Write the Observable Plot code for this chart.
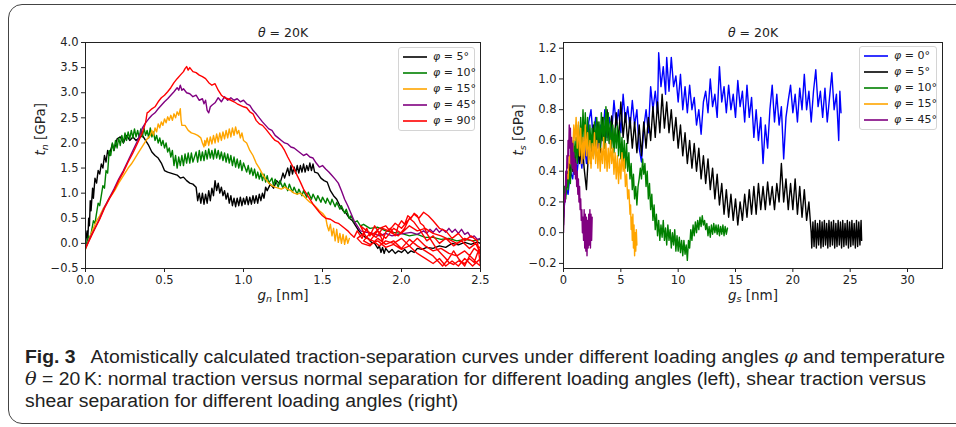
<!DOCTYPE html>
<html><head><meta charset="utf-8">
<script src="https://cdn.jsdelivr.net/npm/d3@7"></script>
<script src="https://cdn.jsdelivr.net/npm/@observablehq/plot@0.6"></script>
<style>
html,body{margin:0;padding:0;background:#fff;width:956px;height:427px;overflow:hidden;}
#wrap{position:relative;width:956px;height:427px;overflow:hidden;}
#border{position:absolute;left:8px;top:4px;width:1000px;height:420px;border:1.6px solid #444;border-radius:14px;box-sizing:border-box;}
#left{position:absolute;left:0;top:0;}
#right{position:absolute;left:490px;top:0;}
.legend{position:absolute;background:rgba(255,255,255,0.85);border:1px solid #d4d4d4;border-radius:3px;font-family:"DejaVu Sans";font-size:11px;color:#222;box-sizing:border-box;z-index:5;}
.legend .row{position:absolute;left:0;height:16px;width:100%;}
.legend svg{position:absolute;left:4px;top:0;}
.legend .lab{position:absolute;top:1px;white-space:nowrap;}
#caption{position:absolute;left:25px;top:346px;font-family:"Liberation Sans";font-size:18px;line-height:22px;color:#222;white-space:nowrap;transform:scaleX(1.075);transform-origin:0 0;}
#caption .ln{display:block;width:max-content;}
#caption .m{font-family:"DejaVu Serif";font-style:italic;}
</style></head>
<body>
<div id="wrap">
<div id="border"></div>
<div id="left"></div>
<div id="right"></div>
<div id="legL" class="legend" style="left:398px;top:47px;width:77px;height:84px;"></div>
<div id="legR" class="legend" style="left:859px;top:46px;width:78px;height:84px;"></div>
<div id="caption">
<div class="ln"><b>Fig. 3</b>&nbsp;&nbsp; Atomistically calculated traction-separation curves under different loading angles <span class="m">φ</span> and temperature</div>
<div class="ln"><span class="m">θ</span> = 20&thinsp;K: normal traction versus normal separation for different loading angles (left), shear traction versus</div>
<div class="ln">shear separation for different loading angles (right)</div>
</div>
</div>
<script>
// ---------- tick values ----------
const xTicksLeft = [0, 0.5, 1.0, 1.5, 2.0, 2.5];
const yTicksLeft = [-0.5, 0, 0.5, 1.0, 1.5, 2.0, 2.5, 3.0, 3.5, 4.0];
const xTicksRight = [0, 5, 10, 15, 20, 25, 30];
const yTicksRight = [-0.2, 0, 0.2, 0.4, 0.6, 0.8, 1.0, 1.2];

// ---------- legends ----------
const anglesLeft = [5, 10, 15, 45, 90];
const colorsLeft = ["#000000", "#008000", "#ffa500", "#800080", "#ff0000"];
const anglesRight = [0, 5, 10, 15, 45];
const colorsRight = ["#0000ff", "#000000", "#008000", "#ffa500", "#800080"];

// ---------- left panel: normal traction t_n [GPa] vs g_n [nm] ----------
const gn5 = [[0,0],[0.01,0.25],[0.015,0.1],[0.02,0.5],[0.025,0.35],[0.03,0.85],[0.035,0.65],[0.045,1.1],[0.05,0.9],[0.06,1.3],[0.07,1.2],[0.08,1.45],[0.09,1.38],[0.1,1.58],[0.11,1.5],[0.12,1.75],[0.13,1.62],[0.14,1.85],[0.15,1.75],[0.17,1.98],[0.18,1.85],[0.2,2.08],[0.22,2.12],[0.24,2.0],[0.26,2.15],[0.28,2.05],[0.3,2.12],[0.32,2.05],[0.34,2.1],[0.36,2.15],[0.38,2.05],[0.4,1.95],[0.42,1.82],[0.44,1.75],[0.46,1.7],[0.48,1.6],[0.5,1.45],[0.52,1.42],[0.54,1.4],[0.56,1.38],[0.58,1.36],[0.6,1.3],[0.62,1.32],[0.64,1.25],[0.66,1.2],[0.68,1.18],[0.7,1.12],[0.71,0.85],[0.72,1.0],[0.73,0.8],[0.74,1.0],[0.75,0.78],[0.76,0.98],[0.77,0.8],[0.78,1.05],[0.79,0.85],[0.8,1.1],[0.81,0.95],[0.82,1.25],[0.83,1.05],[0.84,1.2],[0.85,1.0],[0.86,1.12],[0.87,0.95],[0.88,1.05],[0.89,0.88],[0.9,1.0],[0.91,0.8],[0.92,0.95],[0.93,0.75],[0.94,0.9],[0.95,0.73],[0.96,0.9],[0.97,0.75],[0.98,0.92],[0.99,0.75],[1.0,0.9],[1.01,0.78],[1.02,0.93],[1.03,0.77],[1.04,0.92],[1.05,0.78],[1.06,0.95],[1.07,0.8],[1.08,0.95],[1.09,0.8],[1.1,0.98],[1.11,0.85],[1.12,1.0],[1.13,0.9],[1.14,1.12],[1.15,1.05],[1.17,1.18],[1.19,1.1],[1.21,1.25],[1.23,1.18],[1.25,1.4],[1.26,1.3],[1.28,1.5],[1.29,1.35],[1.3,1.55],[1.31,1.38],[1.32,1.52],[1.33,1.4],[1.34,1.55],[1.35,1.4],[1.36,1.55],[1.37,1.42],[1.38,1.58],[1.39,1.42],[1.4,1.55],[1.41,1.45],[1.42,1.6],[1.43,1.45],[1.44,1.58],[1.45,1.42],[1.47,1.4],[1.49,1.3],[1.51,1.25],[1.53,1.22],[1.55,1.05],[1.57,0.95],[1.59,0.88],[1.61,0.75],[1.63,0.65],[1.65,0.6],[1.67,0.5],[1.69,0.45],[1.71,0.35],[1.73,0.25],[1.75,0.18],[1.77,0.12],[1.79,0.1],[1.81,0.02],[1.83,0.0],[1.85,-0.1],[1.86,-0.05],[1.87,-0.18],[1.88,-0.08],[1.89,-0.2],[1.9,-0.1],[1.92,-0.18],[1.94,-0.12],[1.96,-0.2],[1.98,-0.15],[2.0,-0.18],[2.02,-0.12],[2.04,-0.2],[2.06,-0.15],[2.08,-0.18],[2.1,-0.1],[2.13,-0.12],[2.16,-0.08],[2.2,-0.1],[2.24,-0.05],[2.28,-0.08],[2.32,0.0],[2.36,-0.03],[2.4,0.02],[2.44,-0.02],[2.48,0.03],[2.5,0.0]];

const gn10 = [[0,-0.08],[0.02,0.15],[0.03,0.1],[0.05,0.45],[0.06,0.4],[0.08,0.8],[0.09,0.75],[0.11,1.15],[0.12,1.1],[0.13,1.45],[0.14,1.4],[0.15,1.85],[0.16,1.75],[0.17,2.0],[0.18,1.85],[0.19,2.05],[0.2,1.9],[0.21,2.1],[0.22,1.95],[0.23,2.15],[0.24,2.0],[0.25,2.2],[0.26,2.05],[0.27,2.22],[0.28,2.08],[0.29,2.25],[0.3,2.1],[0.31,2.28],[0.32,2.12],[0.33,2.25],[0.34,2.1],[0.35,2.28],[0.36,2.12],[0.37,2.3],[0.38,2.15],[0.39,2.25],[0.4,2.1],[0.41,2.3],[0.42,2.12],[0.43,2.22],[0.44,2.05],[0.45,2.15],[0.46,2.0],[0.47,2.1],[0.48,1.95],[0.49,2.05],[0.5,1.9],[0.51,2.0],[0.52,1.82],[0.53,1.9],[0.54,1.72],[0.55,1.85],[0.56,1.55],[0.57,1.75],[0.58,1.5],[0.59,1.72],[0.6,1.55],[0.61,1.75],[0.62,1.55],[0.63,1.78],[0.64,1.6],[0.65,1.8],[0.66,1.6],[0.67,1.8],[0.68,1.62],[0.7,1.82],[0.71,1.62],[0.72,1.85],[0.73,1.65],[0.74,1.82],[0.75,1.65],[0.76,1.85],[0.77,1.68],[0.78,1.88],[0.79,1.7],[0.8,1.85],[0.81,1.68],[0.82,1.88],[0.83,1.7],[0.84,1.85],[0.85,1.68],[0.86,1.82],[0.87,1.65],[0.88,1.8],[0.89,1.62],[0.9,1.78],[0.91,1.6],[0.92,1.75],[0.93,1.55],[0.94,1.72],[0.95,1.52],[0.96,1.68],[0.97,1.5],[0.98,1.65],[0.99,1.45],[1.0,1.6],[1.02,1.42],[1.03,1.55],[1.04,1.38],[1.05,1.5],[1.06,1.35],[1.07,1.48],[1.08,1.3],[1.09,1.42],[1.1,1.28],[1.11,1.4],[1.12,1.25],[1.13,1.38],[1.14,1.22],[1.15,1.35],[1.16,1.2],[1.18,1.3],[1.19,1.15],[1.2,1.28],[1.22,1.12],[1.23,1.25],[1.25,1.1],[1.26,1.2],[1.28,1.05],[1.29,1.18],[1.31,1.02],[1.32,1.12],[1.34,0.98],[1.35,1.08],[1.37,0.95],[1.38,1.05],[1.4,0.92],[1.41,1.02],[1.43,0.88],[1.44,0.98],[1.46,0.85],[1.47,0.95],[1.49,0.82],[1.5,0.92],[1.52,0.8],[1.53,0.9],[1.55,0.77],[1.56,0.88],[1.58,0.73],[1.59,0.82],[1.61,0.68],[1.62,0.75],[1.64,0.6],[1.65,0.68],[1.67,0.5],[1.68,0.55],[1.7,0.42],[1.72,0.45],[1.74,0.35],[1.76,0.38],[1.8,0.3],[1.85,0.32],[1.9,0.25],[1.95,0.22],[2.0,0.2],[2.05,0.15],[2.1,0.18],[2.15,0.12],[2.2,0.12],[2.25,0.08],[2.3,0.1],[2.35,0.05],[2.4,0.08],[2.45,0.05],[2.5,0.08]];

const gn15 = [[0,-0.12],[0.03,0.15],[0.05,0.3],[0.07,0.45],[0.09,0.55],[0.11,0.68],[0.13,0.78],[0.15,0.9],[0.17,0.98],[0.19,1.08],[0.21,1.2],[0.23,1.3],[0.25,1.4],[0.27,1.5],[0.29,1.58],[0.31,1.68],[0.33,1.78],[0.35,1.88],[0.37,1.98],[0.39,2.08],[0.41,2.15],[0.42,2.25],[0.43,2.15],[0.44,2.3],[0.45,2.22],[0.46,2.38],[0.47,2.3],[0.48,2.42],[0.49,2.35],[0.5,2.48],[0.51,2.4],[0.52,2.52],[0.53,2.45],[0.54,2.55],[0.55,2.45],[0.56,2.58],[0.57,2.5],[0.58,2.62],[0.59,2.55],[0.6,2.68],[0.605,2.45],[0.61,2.35],[0.63,2.35],[0.65,2.25],[0.67,2.2],[0.69,2.18],[0.71,2.15],[0.73,2.1],[0.74,2.0],[0.75,1.92],[0.755,2.05],[0.76,1.95],[0.77,2.1],[0.78,1.95],[0.79,2.12],[0.8,1.98],[0.81,2.15],[0.82,2.0],[0.83,2.18],[0.84,2.02],[0.85,2.2],[0.86,2.05],[0.87,2.22],[0.88,2.08],[0.89,2.25],[0.9,2.1],[0.91,2.28],[0.92,2.12],[0.93,2.3],[0.94,2.15],[0.95,2.32],[0.96,2.18],[0.97,2.25],[0.98,2.1],[0.99,2.2],[1.0,2.05],[1.02,2.0],[1.04,1.85],[1.06,1.75],[1.08,1.6],[1.1,1.5],[1.12,1.38],[1.14,1.28],[1.16,1.2],[1.18,1.15],[1.2,1.12],[1.22,1.1],[1.24,1.08],[1.26,1.12],[1.28,1.08],[1.3,1.05],[1.32,1.0],[1.34,0.98],[1.36,1.0],[1.38,0.95],[1.4,0.88],[1.42,0.82],[1.44,0.78],[1.46,0.72],[1.48,0.65],[1.5,0.6],[1.52,0.52],[1.53,0.35],[1.54,0.25],[1.55,0.38],[1.56,0.15],[1.57,0.3],[1.58,0.05],[1.59,0.28],[1.6,0.02],[1.61,0.2],[1.62,0.0],[1.63,0.18],[1.64,-0.02],[1.65,0.15],[1.66,0.0],[1.67,0.1]];

const gn45 = [[0,-0.1],[0.03,0.12],[0.06,0.3],[0.09,0.5],[0.12,0.72],[0.15,0.9],[0.18,1.08],[0.21,1.28],[0.24,1.45],[0.27,1.65],[0.3,1.85],[0.33,2.05],[0.36,2.3],[0.38,2.4],[0.4,2.48],[0.42,2.55],[0.44,2.6],[0.46,2.68],[0.48,2.75],[0.5,2.82],[0.52,2.88],[0.54,2.95],[0.56,3.02],[0.58,3.1],[0.59,3.05],[0.6,3.15],[0.61,3.05],[0.62,3.08],[0.64,3.0],[0.66,2.98],[0.68,2.92],[0.7,2.95],[0.72,2.85],[0.74,2.88],[0.75,2.78],[0.76,2.85],[0.77,2.65],[0.78,2.6],[0.79,2.72],[0.8,2.75],[0.82,2.8],[0.84,2.9],[0.86,2.82],[0.88,2.92],[0.9,2.85],[0.92,2.9],[0.94,2.85],[0.96,2.88],[0.98,2.82],[1.0,2.85],[1.02,2.78],[1.04,2.75],[1.06,2.65],[1.08,2.58],[1.1,2.5],[1.12,2.42],[1.14,2.35],[1.16,2.28],[1.18,2.25],[1.2,2.15],[1.22,2.1],[1.24,2.05],[1.26,2.0],[1.28,1.98],[1.3,1.92],[1.32,1.9],[1.34,1.85],[1.36,1.8],[1.38,1.75],[1.4,1.78],[1.42,1.72],[1.44,1.7],[1.46,1.6],[1.48,1.52],[1.5,1.55],[1.52,1.48],[1.54,1.42],[1.56,1.35],[1.58,1.28],[1.6,1.2],[1.62,1.05],[1.64,0.88],[1.66,0.75],[1.68,0.6],[1.7,0.45],[1.72,0.35],[1.74,0.25],[1.78,0.22],[1.82,0.2],[1.86,0.15],[1.9,0.2],[1.94,0.15],[1.98,0.18],[2.02,0.2],[2.06,0.22],[2.1,0.18],[2.14,0.25],[2.16,0.2],[2.18,0.28],[2.2,0.22],[2.22,0.3],[2.24,0.22],[2.26,0.28],[2.28,0.22],[2.3,0.3],[2.32,0.22],[2.34,0.28],[2.36,0.2],[2.38,0.28],[2.4,0.18],[2.42,0.22],[2.44,0.12],[2.46,0.15],[2.48,0.08],[2.5,0.1]];

const gn90 = [[0,-0.1],[0.03,0.1],[0.06,0.3],[0.09,0.48],[0.12,0.7],[0.15,0.88],[0.18,1.05],[0.21,1.25],[0.24,1.42],[0.27,1.62],[0.3,1.8],[0.33,2.0],[0.36,2.2],[0.38,2.4],[0.39,2.6],[0.4,2.62],[0.42,2.68],[0.44,2.72],[0.46,2.82],[0.48,2.9],[0.5,2.95],[0.52,3.02],[0.54,3.1],[0.56,3.2],[0.58,3.28],[0.6,3.35],[0.62,3.42],[0.63,3.48],[0.64,3.52],[0.65,3.45],[0.66,3.5],[0.68,3.42],[0.7,3.4],[0.72,3.35],[0.74,3.32],[0.76,3.28],[0.78,3.2],[0.8,3.15],[0.82,3.18],[0.84,3.05],[0.86,2.95],[0.88,2.9],[0.9,2.88],[0.92,2.85],[0.94,2.82],[0.96,2.78],[0.98,2.75],[1.0,2.72],[1.02,2.7],[1.04,2.62],[1.06,2.58],[1.08,2.45],[1.1,2.38],[1.12,2.35],[1.14,2.28],[1.16,2.2],[1.18,2.12],[1.2,2.05],[1.22,2.02],[1.24,1.95],[1.26,1.85],[1.28,1.72],[1.3,1.6],[1.32,1.48],[1.34,1.35],[1.36,1.22],[1.38,1.08],[1.4,0.98],[1.42,0.88],[1.44,0.78],[1.46,0.7],[1.48,0.62],[1.5,0.55],[1.52,0.5],[1.55,0.48],[1.58,0.42],[1.6,0.4],[1.62,0.35],[1.64,0.3],[1.66,0.25],[1.68,0.18],[1.7,0.12],
[1.72,0.25],[1.75,0.1],[1.78,0.3],[1.8,0.15],[1.83,0.35],[1.86,0.2],[1.88,0.05],[1.9,0.22],[1.93,0.3],[1.96,0.15],[1.98,0.35],[2.0,0.45],[2.02,0.38],[2.04,0.55],[2.06,0.5],[2.08,0.6],[2.1,0.55],[2.12,0.4],[2.14,0.35],[2.16,0.2],[2.18,0.1],[2.2,0.0],[2.22,-0.1],[2.25,-0.2],[2.28,-0.3],[2.3,-0.38],[2.33,-0.42],[2.36,-0.35],[2.4,-0.4],[2.43,-0.3],[2.46,-0.38],[2.48,-0.2],[2.5,-0.1],
[2.45,0.05],[2.4,0.1],[2.35,0.0],[2.3,0.08],[2.25,0.15],[2.2,0.2],[2.15,0.3],[2.1,0.25],[2.05,0.35],[2.0,0.2],[1.95,0.3],[1.9,0.1],[1.85,0.25],[1.8,0.05],[1.76,0.2],[1.72,0.1],
[1.75,0.0],[1.8,-0.05],[1.85,0.1],[1.9,-0.02],[1.95,0.05],[2.0,-0.1],[2.05,0.08],[2.1,-0.05],[2.15,-0.15],[2.2,-0.25],[2.23,-0.35],[2.26,-0.45],[2.3,-0.3],[2.33,-0.15],[2.36,-0.3],[2.4,-0.45],[2.43,-0.25],[2.46,-0.1],[2.5,-0.2],
[2.47,0.0],[2.43,-0.1],[2.38,0.05],[2.33,-0.05],[2.28,0.1],[2.24,0.0],[2.2,0.15],[2.16,0.05],[2.12,0.25],[2.08,0.42],[2.05,0.5],[2.02,0.3],[1.98,0.15],[1.94,0.2],[1.9,0.35],[1.86,0.3],[1.82,0.18],[1.78,0.25],[1.74,0.35],
[1.78,0.1],[1.82,0.05],[1.86,-0.05],[1.9,0.05],[1.95,0.0],[2.0,0.1],[2.05,-0.05],[2.1,0.1],[2.15,-0.05],[2.2,-0.15],[2.25,-0.1],[2.3,-0.2],[2.35,-0.25],[2.4,-0.15],[2.45,-0.3],[2.48,-0.4],[2.5,-0.45],
[2.48,0.05],[2.44,0.15],[2.4,0.05],[2.36,0.2],[2.32,0.1],[2.28,0.25],[2.24,0.3],[2.2,0.45],[2.17,0.55],[2.14,0.62],[2.11,0.5],[2.08,0.58],[2.04,0.45],[2.0,0.3],[1.96,0.4],[1.92,0.25],[1.88,0.3],[1.84,0.12],[1.8,0.2],[1.76,0.05],
[1.8,-0.02],[1.85,0.05],[1.9,-0.08],[1.95,-0.02],[2.0,-0.12],[2.05,-0.05],[2.1,-0.2],[2.15,-0.3],[2.2,-0.4],[2.24,-0.3],[2.28,-0.45],[2.32,-0.35],[2.36,-0.45],[2.4,-0.3],[2.45,-0.45],[2.5,-0.3]];

// ---------- right panel: shear traction t_s [GPa] vs g_s [nm] ----------
const gs0 = [[0,0.1],[0.2,0.3],[0.4,0.25],[0.6,0.4],[0.8,0.35],[1.0,0.5],[1.2,0.4],[1.4,0.55],[1.6,0.42],[1.8,0.6],[2.0,0.45],[2.2,0.72],[2.4,0.8],[2.6,0.6],[2.8,0.75],[3.0,0.55],[3.2,0.7],[3.4,0.6],[3.6,0.8],[3.8,0.62],[4.0,0.75],[4.2,0.65],[4.4,0.86],[4.6,0.7],[4.8,0.8],[5.0,0.65],[5.2,0.9],[5.4,0.72],[5.6,0.82],[5.8,0.68],[6.0,0.86],[6.2,0.7],[6.4,0.8],[6.6,0.55],[6.8,0.46],[7.0,0.68],[7.2,0.8],[7.4,0.65],[7.6,0.95],[7.8,0.8],[8.0,0.92],[8.2,0.78],[8.3,1.17],[8.5,0.95],[8.7,1.08],[8.9,0.9],[9.0,1.14],[9.2,0.92],[9.4,1.14],[9.6,0.95],[9.8,1.02],[10.0,0.85],[10.2,1.03],[10.4,0.8],[10.6,0.95],[10.8,0.78],[11.0,0.96],[11.2,0.8],[11.4,0.88],[11.6,0.7],[11.8,0.8],[12.0,0.64],[12.2,0.85],[12.4,0.92],[12.6,0.78],[12.8,1.0],[13.0,0.82],[13.2,0.9],[13.4,0.75],[13.6,1.08],[13.8,0.85],[14.0,0.95],[14.2,0.78],[14.4,0.96],[14.6,0.8],[14.8,0.9],[15.0,0.75],[15.2,0.99],[15.4,0.82],[15.6,0.92],[15.8,0.72],[16.0,0.96],[16.2,0.75],[16.4,0.88],[16.6,0.62],[16.8,0.8],[17.0,0.6],[17.2,0.75],[17.4,0.45],[17.6,0.7],[17.8,0.55],[18.0,0.8],[18.2,0.96],[18.4,0.72],[18.6,0.9],[18.8,0.7],[19.0,0.82],[19.2,0.48],[19.4,0.75],[19.6,0.86],[19.8,0.96],[20.0,0.78],[20.2,0.9],[20.4,0.72],[20.6,0.94],[20.8,0.8],[21.0,1.03],[21.2,0.8],[21.4,0.92],[21.6,0.72],[21.8,0.92],[22.0,1.06],[22.2,0.82],[22.4,0.92],[22.6,0.75],[22.8,0.94],[23.0,0.72],[23.2,0.88],[23.4,1.04],[23.6,0.8],[23.8,0.9],[24.0,0.6],[24.1,0.92],[24.2,0.78]];

const gs5 = [[0,0.05],[0.1,0.3],[0.2,0.25],[0.3,0.4],[0.4,0.3],[0.5,0.45],[0.6,0.35],[0.7,0.5],[0.8,0.4],[0.9,0.55],[1.0,0.42],[1.2,0.6],[1.4,0.45],[1.6,0.62],[1.8,0.42],[2.0,0.28],[2.2,0.55],[2.4,0.45],[2.6,0.7],[2.8,0.5],[3.0,0.72],[3.2,0.52],[3.4,0.75],[3.6,0.55],[3.8,0.8],[4.0,0.58],[4.2,0.76],[4.4,0.55],[4.6,0.78],[4.8,0.6],[5.0,0.85],[5.2,0.62],[5.4,0.78],[5.6,0.58],[5.8,0.75],[6.0,0.55],[6.2,0.72],[6.4,0.52],[6.6,0.7],[6.8,0.5],[7.0,0.72],[7.2,0.55],[7.4,0.75],[7.6,0.6],[7.8,0.82],[8.0,0.62],[8.2,0.85],[8.4,0.65],[8.6,0.9],[8.8,0.68],[9.0,0.85],[9.2,0.65],[9.4,0.8],[9.6,0.6],[9.8,0.75],[10.0,0.55],[10.2,0.7],[10.4,0.5],[10.6,0.65],[10.8,0.45],[11.0,0.6],[11.2,0.42],[11.4,0.58],[11.6,0.4],[11.8,0.55],[12.0,0.35],[12.2,0.5],[12.4,0.32],[12.6,0.48],[12.8,0.28],[13.0,0.42],[13.2,0.22],[13.4,0.38],[13.6,0.18],[13.8,0.32],[14.0,0.12],[14.2,0.28],[14.4,0.1],[14.6,0.25],[14.8,0.08],[15.0,0.22],[15.2,0.05],[15.4,0.2],[15.6,0.08],[15.8,0.25],[16.0,0.1],[16.2,0.28],[16.4,0.12],[16.6,0.3],[16.8,0.12],[17.0,0.32],[17.2,0.15],[17.4,0.3],[17.6,0.15],[17.8,0.33],[18.0,0.18],[18.2,0.3],[18.4,0.15],[18.6,0.32],[18.8,0.2],[19.0,0.45],[19.2,0.2],[19.4,0.35],[19.6,0.15],[19.8,0.32],[20.0,0.15],[20.2,0.35],[20.4,0.12],[20.6,0.3],[20.8,0.1],[21.0,0.28],[21.2,0.08],[21.4,0.2],[21.6,0.0],[21.65,-0.1],[21.75,0.07],[21.85,-0.09],[21.95,0.08],[22.05,-0.1],[22.15,0.06],[22.25,-0.08],[22.35,0.08],[22.45,-0.1],[22.55,0.07],[22.65,-0.09],[22.75,0.08],[22.85,-0.08],[22.95,0.06],[23.05,-0.1],[23.15,0.08],[23.25,-0.09],[23.35,0.07],[23.45,-0.08],[23.55,0.08],[23.65,-0.1],[23.75,0.06],[23.85,-0.09],[23.95,0.08],[24.05,-0.08],[24.15,0.07],[24.25,-0.1],[24.35,0.08],[24.45,-0.09],[24.55,0.06],[24.65,-0.08],[24.75,0.08],[24.85,-0.1],[24.95,0.07],[25.05,-0.09],[25.15,0.08],[25.25,-0.08],[25.35,0.06],[25.45,-0.1],[25.55,0.08],[25.65,-0.09],[25.75,0.07],[25.85,-0.08],[25.95,0.08],[26.0,-0.05]];

const gs10 = [[0,0.2],[0.1,0.3],[0.2,0.22],[0.3,0.35],[0.4,0.28],[0.5,0.4],[0.6,0.32],[0.7,0.5],[0.8,0.42],[0.9,0.6],[1.0,0.48],[1.1,0.62],[1.2,0.45],[1.3,0.7],[1.4,0.5],[1.5,0.75],[1.6,0.55],[1.7,0.8],[1.8,0.6],[1.9,0.78],[2.0,0.55],[2.1,0.75],[2.2,0.5],[2.3,0.7],[2.4,0.55],[2.5,0.68],[2.6,0.5],[2.7,0.72],[2.8,0.55],[2.9,0.75],[3.0,0.58],[3.1,0.72],[3.2,0.55],[3.3,0.78],[3.4,0.6],[3.5,0.75],[3.6,0.55],[3.7,0.82],[3.8,0.6],[3.9,0.78],[4.0,0.58],[4.1,0.72],[4.2,0.55],[4.3,0.7],[4.4,0.52],[4.5,0.68],[4.6,0.55],[4.7,0.7],[4.8,0.5],[4.9,0.66],[5.0,0.48],[5.1,0.62],[5.2,0.45],[5.3,0.6],[5.4,0.42],[5.5,0.58],[5.6,0.4],[5.7,0.52],[5.8,0.35],[5.9,0.45],[6.0,0.28],[6.1,0.38],[6.2,0.22],[6.3,0.3],[6.4,0.18],[6.5,0.3],[6.6,0.35],[6.7,0.42],[6.8,0.35],[6.9,0.48],[7.0,0.38],[7.1,0.45],[7.2,0.3],[7.3,0.4],[7.4,0.22],[7.5,0.32],[7.6,0.15],[7.7,0.25],[7.8,0.08],[7.9,0.18],[8.0,0.02],[8.1,0.12],[8.2,-0.02],[8.3,0.08],[8.4,-0.05],[8.5,0.05],[8.6,-0.03],[8.7,0.08],[8.8,-0.05],[8.9,0.03],[9.0,-0.08],[9.1,0.05],[9.2,-0.05],[9.3,0.02],[9.4,-0.1],[9.5,0.0],[9.6,-0.08],[9.7,0.02],[9.8,-0.12],[9.9,-0.02],[10.0,-0.12],[10.1,-0.03],[10.2,-0.13],[10.3,-0.05],[10.4,-0.15],[10.5,-0.05],[10.6,-0.14],[10.7,-0.08],[10.8,-0.18],[10.9,-0.05],[11.0,-0.1],[11.1,0.02],[11.2,-0.05],[11.3,0.05],[11.4,-0.02],[11.5,0.07],[11.6,0.0],[11.7,0.08],[11.8,0.02],[11.9,0.1],[12.0,0.04],[12.1,0.11],[12.2,0.05],[12.3,0.08],[12.4,0.02],[12.5,0.06],[12.6,-0.02],[12.7,0.04],[12.8,-0.03],[12.9,0.05],[13.0,-0.01],[13.1,0.06],[13.2,0.0],[13.3,0.05],[13.4,-0.01],[13.5,0.05],[13.6,-0.02],[13.7,0.04],[13.8,-0.01],[13.9,0.05],[14.0,-0.02],[14.1,0.04],[14.2,-0.01],[14.3,0.03]];

const gs15 = [[0.2,0.3],[0.3,0.38],[0.4,0.35],[0.5,0.5],[0.6,0.45],[0.7,0.6],[0.8,0.52],[0.9,0.7],[1.0,0.6],[1.1,0.75],[1.2,0.55],[1.3,0.72],[1.4,0.5],[1.5,0.68],[1.6,0.45],[1.7,0.62],[1.8,0.48],[1.9,0.7],[2.0,0.5],[2.1,0.65],[2.2,0.45],[2.3,0.6],[2.4,0.42],[2.5,0.58],[2.6,0.48],[2.7,0.65],[2.8,0.45],[2.9,0.6],[3.0,0.42],[3.1,0.58],[3.2,0.4],[3.3,0.55],[3.4,0.45],[3.5,0.62],[3.6,0.42],[3.7,0.58],[3.8,0.4],[3.9,0.55],[4.0,0.42],[4.1,0.6],[4.2,0.45],[4.3,0.55],[4.4,0.38],[4.5,0.52],[4.6,0.35],[4.7,0.5],[4.8,0.32],[4.9,0.48],[5.0,0.35],[5.1,0.52],[5.2,0.4],[5.3,0.48],[5.4,0.3],[5.5,0.38],[5.6,0.22],[5.7,0.28],[5.8,0.12],[5.85,0.18],[5.9,0.02],[5.95,0.1],[6.0,-0.05],[6.05,0.12],[6.1,-0.1],[6.15,0.05],[6.2,-0.15],[6.25,0.0],[6.3,-0.12],[6.35,0.02],[6.4,-0.08]];

const gs45 = [[0,0.0],[0.1,0.25],[0.15,0.2],[0.2,0.4],[0.25,0.3],[0.3,0.5],[0.35,0.42],[0.4,0.6],[0.45,0.5],[0.5,0.7],[0.55,0.55],[0.6,0.68],[0.65,0.45],[0.7,0.62],[0.75,0.42],[0.8,0.58],[0.85,0.4],[0.9,0.52],[0.95,0.38],[1.0,0.48],[1.05,0.35],[1.1,0.45],[1.15,0.3],[1.2,0.4],[1.25,0.25],[1.3,0.35],[1.35,0.2],[1.4,0.3],[1.45,0.15],[1.5,0.22],[1.55,0.08],[1.6,0.15],[1.65,0.0],[1.7,0.1],[1.75,-0.05],[1.8,0.15],[1.85,-0.1],[1.9,0.12],[1.95,-0.12],[2.0,0.1],[2.05,-0.15],[2.1,0.08],[2.15,-0.1],[2.2,0.12],[2.25,-0.08],[2.3,0.15],[2.35,-0.1],[2.4,0.12],[2.45,-0.05],[2.5,0.1]];

const seriesLeft = [gn5, gn10, gn15, gn45, gn90];
const seriesRight = [gs0, gs5, gs10, gs15, gs45];

const fmt1 = d3.format(".1f");
const fmt0 = d3.format("d");

function lineMarks(series, colors) {
  return series.map((s, i) => Plot.line(s, {x: d => d[0], y: d => d[1], stroke: colors[i], strokeWidth: 1.4, clip: true}));
}

function panel(o) {
  return Plot.plot({
    width: o.width, height: 310,
    marginLeft: o.ml, marginRight: o.mr, marginTop: 42, marginBottom: 42,
    style: {fontFamily: "DejaVu Sans", fontSize: "11.5px", color: "#222", background: "transparent", overflow: "visible"},
    x: {domain: o.xd, ticks: o.xt, tickFormat: o.xf, tickSize: 4, tickPadding: 3, label: null},
    y: {domain: o.yd, ticks: o.yt, tickFormat: fmt1, tickSize: 4, tickPadding: 3, label: null},
    marks: [
      ...lineMarks(o.series, o.colors),
      Plot.frame({stroke: "#222", strokeWidth: 1}),
      Plot.text([o.title], {frameAnchor: "top", dy: -14, fontSize: 12.5, fill: "#222"}),
      Plot.text([o.xlab], {frameAnchor: "bottom", dy: 31, fontSize: 13.5, fill: "#222"}),
      Plot.text([o.ylab], {frameAnchor: "left", dx: -45, rotate: -90, fontSize: 13.5, fill: "#222"})
    ]
  });
}

function rich(svg, plain, html) {
  svg.querySelectorAll("text").forEach(t => { if (t.textContent === plain) t.innerHTML = html; });
}

const L = panel({width: 490, ml: 85, mr: 10, xd: [0, 2.5], yd: [-0.5, 4.0], xt: xTicksLeft, yt: yTicksLeft, xf: fmt1,
  series: seriesLeft, colors: colorsLeft, title: "θ = 20K", xlab: "gn [nm]", ylab: "tn [GPa]"});
const R = panel({width: 466, ml: 73, mr: 14, xd: [0, 33.05], yd: [-0.233, 1.237], xt: xTicksRight, yt: yTicksRight, xf: fmt0,
  series: seriesRight, colors: colorsRight, title: "θ = 20K", xlab: "gs [nm]", ylab: "ts [GPa]"});

document.getElementById("left").appendChild(L);
document.getElementById("right").appendChild(R);

for (const svg of [L, R]) rich(svg, "θ = 20K", '<tspan font-style="italic">θ</tspan> = 20K');
rich(L, "gn [nm]", '<tspan font-style="italic">g</tspan><tspan font-style="italic" font-size="9.5" dy="2.5">n</tspan><tspan dy="-2.5"> [nm]</tspan>');
rich(L, "tn [GPa]", '<tspan font-style="italic">t</tspan><tspan font-style="italic" font-size="9.5" dy="3">n</tspan><tspan dy="-3"> [GPa]</tspan>');
rich(R, "gs [nm]", '<tspan font-style="italic">g</tspan><tspan font-style="italic" font-size="9.5" dy="2.5">s</tspan><tspan dy="-2.5"> [nm]</tspan>');
rich(R, "ts [GPa]", '<tspan font-style="italic">t</tspan><tspan font-style="italic" font-size="9.5" dy="3">s</tspan><tspan dy="-3"> [GPa]</tspan>');

function legend(id, angles, colors) {
  const el = document.getElementById(id);
  angles.forEach((a, i) => {
    const row = document.createElement("div");
    row.className = "row";
    row.style.top = (0.5 + 16 * i) + "px";
    row.innerHTML = `<svg width="25" height="16"><line x1="0" x2="24" y1="8" y2="8" stroke="${colors[i]}" stroke-width="1.6"></line></svg>` +
      `<div class="lab" style="left:34px"><i>φ</i> = ${a}°</div>`;
    el.appendChild(row);
  });
}
legend("legL", anglesLeft, colorsLeft);
legend("legR", anglesRight, colorsRight);
</script>
</body></html>
